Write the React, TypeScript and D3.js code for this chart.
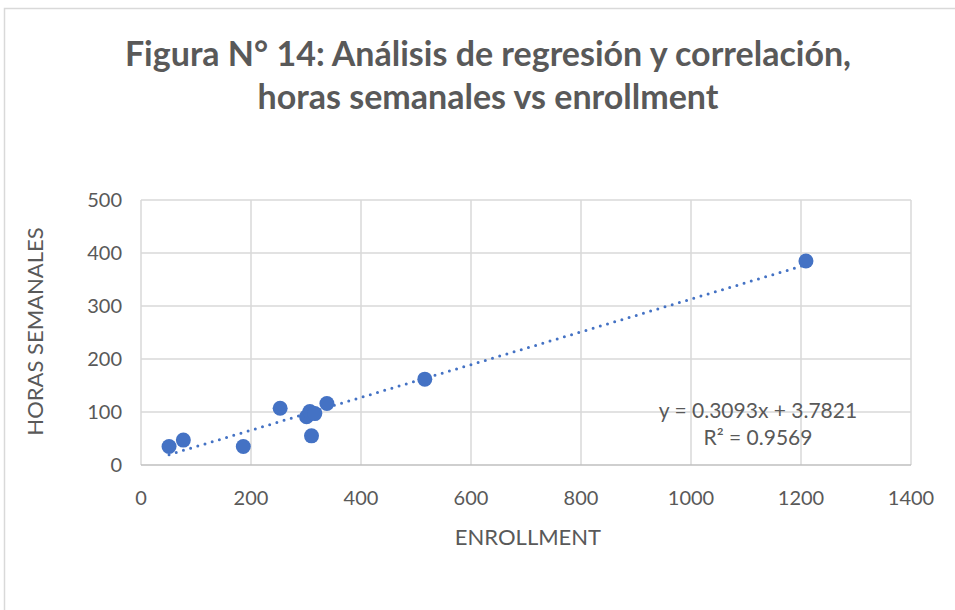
import { useEffect, useRef } from 'react';
import * as d3 from 'd3';

const enrollment = [51, 77, 186, 253, 301, 307, 316, 310, 338, 516, 1209];
const horasSemanales = [35, 47, 35, 107, 91, 101, 97, 55, 116, 162, 385];
const xTicks = [0, 200, 400, 600, 800, 1000, 1200, 1400];
const yTicks = [0, 100, 200, 300, 400, 500];
const slope = 0.3093;
const intercept = 3.7821;
const titleLines = ['Figura N° 14: Análisis de regresión y correlación,', 'horas semanales vs enrollment'];

export default function App() {
  const svgRef = useRef<SVGSVGElement>(null);

  useEffect(() => {
    if (!svgRef.current) return;
    const svg = d3.select(svgRef.current);
    svg.selectAll('*').remove();

    const font = 'Lato, "Open Sans", sans-serif';
    const textColor = '#595959';
    const blue = '#4472C4';

    // chart frame
    svg.append('rect')
      .attr('x', 4.5).attr('y', 8.5)
      .attr('width', 980).attr('height', 640)
      .attr('fill', '#fff')
      .attr('stroke', '#d9d9d9')
      .attr('stroke-width', 1.5);

    const xScale = d3.scaleLinear().domain([0, 1400]).range([141, 911]);
    const yScale = d3.scaleLinear().domain([0, 500]).range([465, 200]);

    // title
    svg.append('g').selectAll('text')
      .data(titleLines)
      .enter()
      .append('text')
      .attr('x', 488)
      .attr('y', (d, i) => 66 + i * 43)
      .attr('text-anchor', 'middle')
      .attr('font-family', font)
      .attr('font-weight', 'bold')
      .attr('font-size', 34)
      .attr('fill', textColor)
      .text(d => d);

    // gridlines
    svg.append('g').selectAll('line')
      .data(yTicks.slice(1))
      .enter()
      .append('line')
      .attr('x1', xScale(0)).attr('x2', xScale(1400))
      .attr('y1', d => yScale(d)).attr('y2', d => yScale(d))
      .attr('stroke', '#d9d9d9').attr('stroke-width', 1.5);

    svg.append('g').selectAll('line')
      .data(xTicks)
      .enter()
      .append('line')
      .attr('x1', d => xScale(d)).attr('x2', d => xScale(d))
      .attr('y1', yScale(0)).attr('y2', yScale(500))
      .attr('stroke', '#d9d9d9').attr('stroke-width', 1.5);

    // x axis line
    svg.append('line')
      .attr('x1', xScale(0)).attr('x2', xScale(1400))
      .attr('y1', yScale(0)).attr('y2', yScale(0))
      .attr('stroke', '#bfbfbf').attr('stroke-width', 1.5);

    // tick labels
    svg.append('g').selectAll('text')
      .data(xTicks)
      .enter()
      .append('text')
      .attr('x', d => xScale(d))
      .attr('y', 505)
      .attr('text-anchor', 'middle')
      .attr('font-family', font)
      .attr('font-size', 20)
      .attr('fill', textColor)
      .text(d => d);

    svg.append('g').selectAll('text')
      .data(yTicks)
      .enter()
      .append('text')
      .attr('x', 122)
      .attr('y', d => yScale(d) + 7)
      .attr('text-anchor', 'end')
      .attr('font-family', font)
      .attr('font-size', 20)
      .attr('fill', textColor)
      .text(d => d);

    // axis titles
    svg.append('text')
      .attr('x', 528).attr('y', 545)
      .attr('text-anchor', 'middle')
      .attr('font-family', font)
      .attr('font-size', 22)
      .attr('fill', textColor)
      .text('ENROLLMENT');

    svg.append('text')
      .attr('transform', `translate(43, ${yScale(250) - 1}) rotate(-90)`)
      .attr('text-anchor', 'middle')
      .attr('font-family', font)
      .attr('font-size', 22)
      .attr('fill', textColor)
      .text('HORAS SEMANALES');

    // trendline
    const xMin = d3.min(enrollment) || 0;
    const xMax = d3.max(enrollment) || 0;
    const trend = [xMin, xMax].map(x => [x, slope * x + intercept] as [number, number]);
    const line = d3.line<[number, number]>()
      .x(d => xScale(d[0]))
      .y(d => yScale(d[1]));
    svg.append('path')
      .datum(trend)
      .attr('d', line)
      .attr('fill', 'none')
      .attr('stroke', blue)
      .attr('stroke-width', 3)
      .attr('stroke-linecap', 'round')
      .attr('stroke-dasharray', '0,7.5');

    // points
    svg.append('g').selectAll('circle')
      .data(enrollment)
      .enter()
      .append('circle')
      .attr('cx', d => xScale(d))
      .attr('cy', (d, i) => yScale(horasSemanales[i]))
      .attr('r', 7.5)
      .attr('fill', blue);

    // equation label
    svg.append('text')
      .attr('x', 758).attr('y', 418)
      .attr('text-anchor', 'middle')
      .attr('font-family', font)
      .attr('font-size', 21)
      .attr('fill', textColor)
      .text(`y = ${slope}x + ${intercept}`);

    svg.append('text')
      .attr('x', 758).attr('y', 445)
      .attr('text-anchor', 'middle')
      .attr('font-family', font)
      .attr('font-size', 21)
      .attr('fill', textColor)
      .text('R² = 0.9569');
  }, []);

  return (
    <svg
      ref={svgRef}
      width={955}
      height={610}
      style={{ position: 'absolute', left: 0, top: 0 }}
    />
  );
}
